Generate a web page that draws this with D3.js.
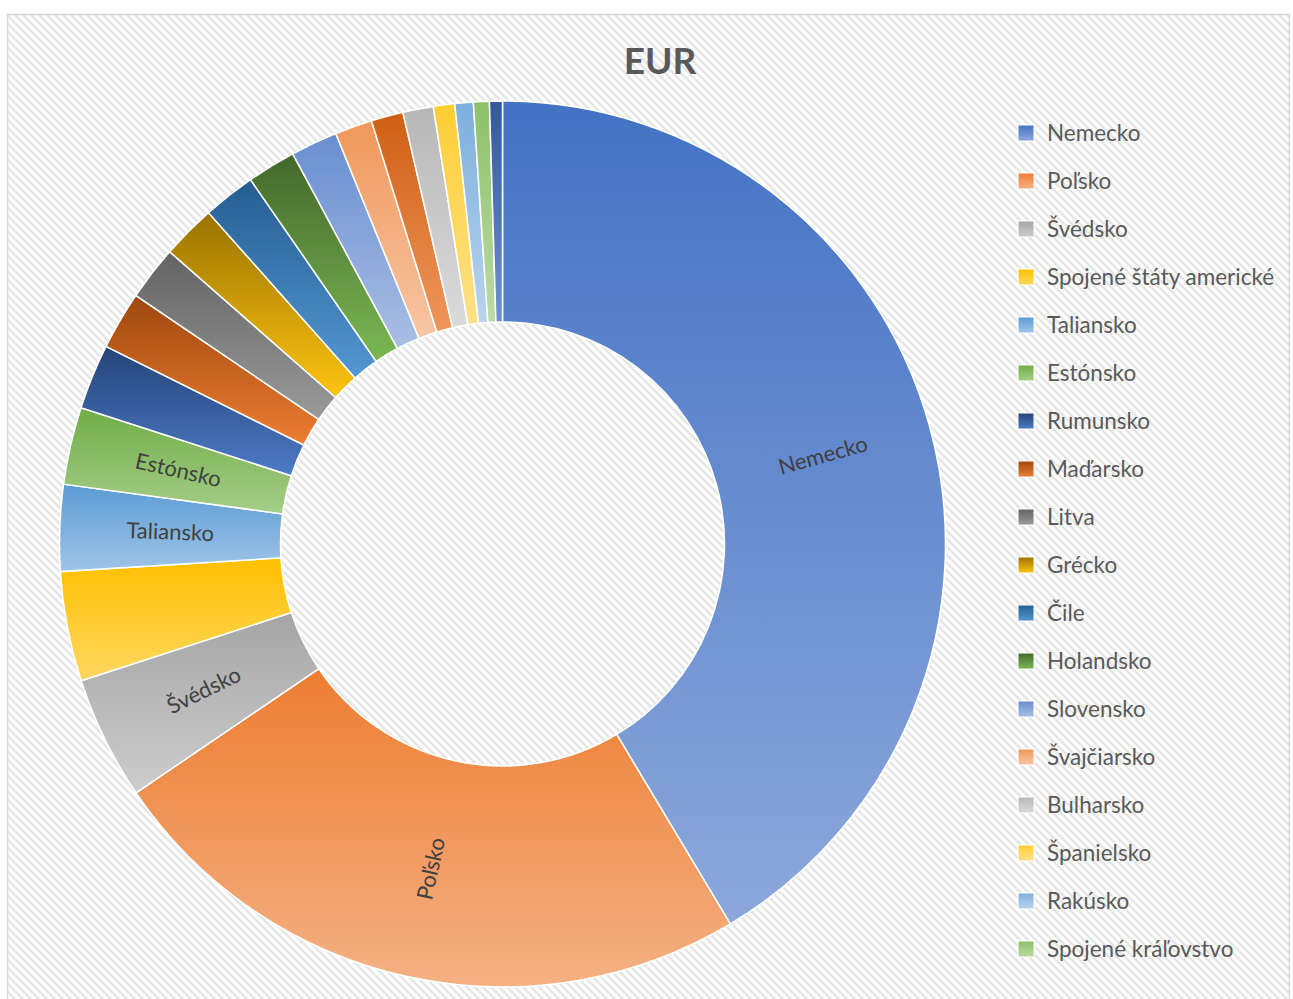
<!DOCTYPE html>
<html>
<head>
<meta charset="utf-8">
<script src="https://cdn.jsdelivr.net/npm/d3@7"></script>
<style>
    body { margin: 0; background: #fff; }
    #chart-area { width: 1293px; height: 999px; }
    text { font-family: Lato, "Open Sans", sans-serif; }
</style>
</head>
<body>
<div id="chart-area"></div>
<script>
// data (share of EUR, %), in drawing order
const countries = ["Nemecko", "Poľsko", "Švédsko", "Spojené štáty americké", "Taliansko", "Estónsko",
    "Rumunsko", "Maďarsko", "Litva", "Grécko", "Čile", "Holandsko", "Slovensko", "Švajčiarsko",
    null, "Bulharsko", "Španielsko", "Rakúsko", "Spojené kráľovstvo", null];
const shares = [41.4, 24.1, 4.5, 4.0, 3.15, 2.82, 2.38, 2.12, 1.99, 1.98, 1.92, 1.78, 1.71, 1.36,
    1.17, 1.11, 0.78, 0.67, 0.58, 0.47];
const labelled = ["Nemecko", "Poľsko", "Švédsko", "Taliansko", "Estónsko"];
const title = "EUR";

// office-like palette
const palette = ["#4472C4", "#ED7D31", "#A5A5A5", "#FFC000", "#5B9BD5", "#70AD47",
    "#264478", "#9E480E", "#636363", "#997300", "#255E91", "#43682B",
    "#698ED0", "#F1975A", "#CF5F14", "#B7B7B7", "#FFCD33", "#7CAFDD", "#8CC168", "#3458A0"];

class DonutVis {
    constructor(_parentElement) {
        this.parentElement = _parentElement;
        this.initVis();
    }

    initVis() {
        let vis = this;
        vis.width = 1293;
        vis.height = 999;

        vis.svg = d3.select("#" + vis.parentElement).append("svg")
            .attr("width", vis.width)
            .attr("height", vis.height);

        vis.defs = vis.svg.append("defs");

        // hatched background
        let pat = vis.defs.append("pattern")
            .attr("id", "hatch")
            .attr("patternUnits", "userSpaceOnUse")
            .attr("width", 8)
            .attr("height", 8);
        pat.append("rect").attr("width", 8).attr("height", 8).attr("fill", "#fff");
        pat.append("path")
            .attr("d", "M-2,-2 L10,10 M-2,6 L2,10 M6,-2 L10,2")
            .attr("stroke", "#E6E6E6")
            .attr("stroke-width", 2.4);

        vis.svg.append("rect")
            .attr("x", 7.5).attr("y", 14.5)
            .attr("width", 1282).attr("height", 995)
            .attr("fill", "url(#hatch)")
            .attr("stroke", "#D9D9D9")
            .attr("stroke-width", 1.5);

        vis.svg.append("text")
            .attr("x", 660)
            .attr("y", 74)
            .attr("text-anchor", "middle")
            .attr("font-size", 37)
            .attr("font-weight", "bold")
            .attr("fill", "#595959")
            .text(title);

        vis.cx = 502.5;
        vis.cy = 544;
        vis.outer = 443;
        vis.inner = 222;

        vis.g = vis.svg.append("g")
            .attr("transform", "translate(" + vis.cx + "," + vis.cy + ")");

        vis.wrangleData();
    }

    wrangleData() {
        let vis = this;
        vis.displayData = shares.map((v, i) => ({ name: countries[i], value: v, idx: i }));
        vis.pie = d3.pie().sort(null).value(d => d.value);
        vis.arcs = vis.pie(vis.displayData);
        vis.updateVis();
    }

    updateVis() {
        let vis = this;

        const lighter = c => {
            let h = d3.hsl(c);
            h.l = Math.min(0.93, h.l * 0.78 + 0.3);
            return h.formatHex();
        };

        // vertical gradient per colour
        palette.forEach((c, i) => {
            let grad = vis.defs.append("linearGradient")
                .attr("id", "grad" + i)
                .attr("x1", 0).attr("y1", 0).attr("x2", 0).attr("y2", 1);
            grad.append("stop").attr("offset", "0%").attr("stop-color", c);
            grad.append("stop").attr("offset", "100%").attr("stop-color", lighter(c));
        });

        const arc = d3.arc().innerRadius(vis.inner).outerRadius(vis.outer);
        const mid = (vis.inner + vis.outer) / 2;

        vis.g.selectAll(".slice")
            .data(vis.arcs)
            .enter()
            .append("path")
            .attr("class", "slice")
            .attr("d", arc)
            .attr("fill", d => "url(#grad" + d.data.idx + ")")
            .attr("stroke", "#fff")
            .attr("stroke-width", 1.5);

        // data labels, rotated along the radius
        vis.g.selectAll(".data-label")
            .data(vis.arcs.filter(d => labelled.includes(d.data.name)))
            .enter()
            .append("text")
            .attr("class", "data-label")
            .attr("transform", d => {
                let a = (d.startAngle + d.endAngle) / 2;
                let x = mid * Math.sin(a), y = -mid * Math.cos(a);
                let rot = a * 180 / Math.PI - 90;
                if (rot > 90) rot -= 180;
                if (rot < -90) rot += 180;
                return "translate(" + x + "," + y + ") rotate(" + rot + ")";
            })
            .attr("text-anchor", "middle")
            .attr("dy", "0.35em")
            .attr("font-size", 22)
            .attr("fill", "#404040")
            .text(d => d.data.name);

        // legend (only named entries fit)
        let legendData = vis.displayData.filter(d => d.name !== null);
        let legend = vis.svg.selectAll(".legend-item")
            .data(legendData)
            .enter()
            .append("g")
            .attr("class", "legend-item")
            .attr("transform", (d, i) => "translate(1018," + (133 + i * 48) + ")");

        legend.append("rect")
            .attr("x", 0)
            .attr("y", -8)
            .attr("width", 16)
            .attr("height", 16)
            .attr("fill", d => "url(#grad" + d.idx + ")")
            .attr("stroke", "#fff")
            .attr("stroke-width", 1);

        legend.append("text")
            .attr("x", 29)
            .attr("dy", "0.36em")
            .attr("font-size", 22.5)
            .attr("fill", "#595959")
            .text(d => d.name);
    }
}

new DonutVis("chart-area");
</script>
</body>
</html>
